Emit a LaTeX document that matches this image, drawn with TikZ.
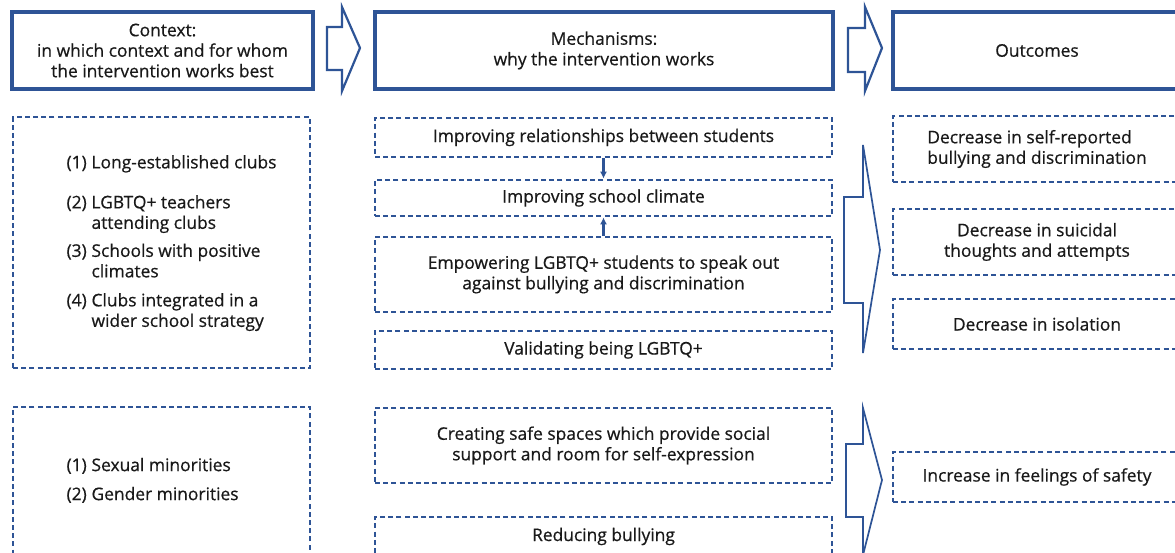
\documentclass[tikz,border=0pt]{standalone}
\usepackage{fontspec}
\usetikzlibrary{arrows.meta}
\setmainfont{Open Sans}[FakeBold=0.6]
\definecolor{boxblue}{RGB}{46,84,150}
\definecolor{txtgray}{RGB}{25,25,25}
\begin{document}
\begin{tikzpicture}[x=1pt, y=-1pt, >={Latex[length=7pt,width=7pt]},
  every node/.style={font=\fontsize{17.4}{20.5}\selectfont, text=txtgray},
  headbox/.style={draw=boxblue, line width=3.2pt, minimum height=77pt, inner sep=0pt, align=center},
  dashbox/.style={draw=boxblue, line width=2.7pt, dash pattern=on 5pt off 3.2pt, inner sep=0pt, align=center},
  blockarrow/.style={draw=boxblue, line width=1.7pt, line join=miter}]
  \useasboundingbox (0,0) rectangle (1175,553);
  \clip (0,0) rectangle (1175,553);

  \node[headbox, minimum width=301pt] (ctxhead) at (162.5,50.5) {Context:\\in which context and for whom\\the intervention works best};
  \node[headbox, minimum width=458pt] (mechhead) at (604,50.5) {Mechanisms:\\why the intervention works};
  \node[headbox, minimum width=288pt] (outhead) at (1037,50.5) {Outcomes};

  \draw[blockarrow, line width=2.2pt] (327,27) -- (342,27) -- (342,7) -- (360,48) -- (342,91) -- (342,70) -- (327,70) -- cycle;
  \draw[blockarrow, line width=2.2pt] (848,28) -- (865,28) -- (865,7) -- (882,48) -- (865,91) -- (865,72) -- (848,72) -- cycle;

  \node[dashbox, minimum width=297pt, minimum height=251pt] (ctxa) at (161.5,242.5) {};
  \node[anchor=west] (ctxlista) at (63,243.5) {\begin{tabular}{@{}p{25pt}@{}l@{}}
    (1) & Long-established clubs\\[19.5pt]
    (2) & LGBTQ+ teachers\\
        & attending clubs\\[7.5pt]
    (3) & Schools with positive\\
        & climates\\[8.5pt]
    (4) & Clubs integrated in a\\
        & wider school strategy
  \end{tabular}};
  \node[dashbox, minimum width=297pt, minimum height=149pt] (ctxb) at (161.5,481.5) {};
  \node[anchor=west] (ctxlistb) at (63,481.5) {\begin{tabular}{@{}p{25pt}@{}l@{}}
    (1) & Sexual minorities\\[8.5pt]
    (2) & Gender minorities
  \end{tabular}};

  \node[dashbox, minimum width=457pt, minimum height=39pt] (mA) at (603.5,137.5) {Improving relationships between students};
  \node[dashbox, minimum width=457pt, minimum height=36pt] (mB) at (603.5,198) {Improving school climate};
  \node[dashbox, minimum width=457pt, minimum height=75pt] (mC) at (603.5,274.5) {Empowering LGBTQ+ students to speak out\\against bullying and discrimination};
  \node[dashbox, minimum width=457pt, minimum height=38pt] (mD) at (603.5,350) {Validating being LGBTQ+};
  \node[dashbox, minimum width=457pt, minimum height=75pt] (mE) at (603.5,445.5) {Creating safe spaces which provide social\\support and room for self-expression};
  \node[dashbox, minimum width=457pt, minimum height=39pt] (mF) at (603.5,536.5) {Reducing bullying};

  \draw[->, boxblue, line width=2.2pt] (mA.south) -- (mB.north);
  \draw[->, boxblue, line width=2.2pt] (mC.north) -- (mB.south);

  \draw[blockarrow] (844,197) -- (863,197) -- (863,145) -- (880,250) -- (863,353) -- (863,303) -- (844,303) -- cycle;
  \draw[blockarrow] (846,444) -- (863,444) -- (863,408) -- (882,480) -- (863,555) -- (863,517) -- (846,517) -- cycle;

  \node[dashbox, align=left, minimum width=288pt, minimum height=66pt] (oA) at (1037,149) {Decrease in self-reported\\bullying and discrimination};
  \node[dashbox, minimum width=288pt, minimum height=66pt] (oB) at (1037,242) {Decrease in suicidal\\thoughts and attempts};
  \node[dashbox, minimum width=288pt, minimum height=50pt] (oC) at (1037,324) {Decrease in isolation};
  \node[dashbox, minimum width=288pt, minimum height=50pt] (oD) at (1037,477) {Increase in feelings of safety};
\end{tikzpicture}
\end{document}
